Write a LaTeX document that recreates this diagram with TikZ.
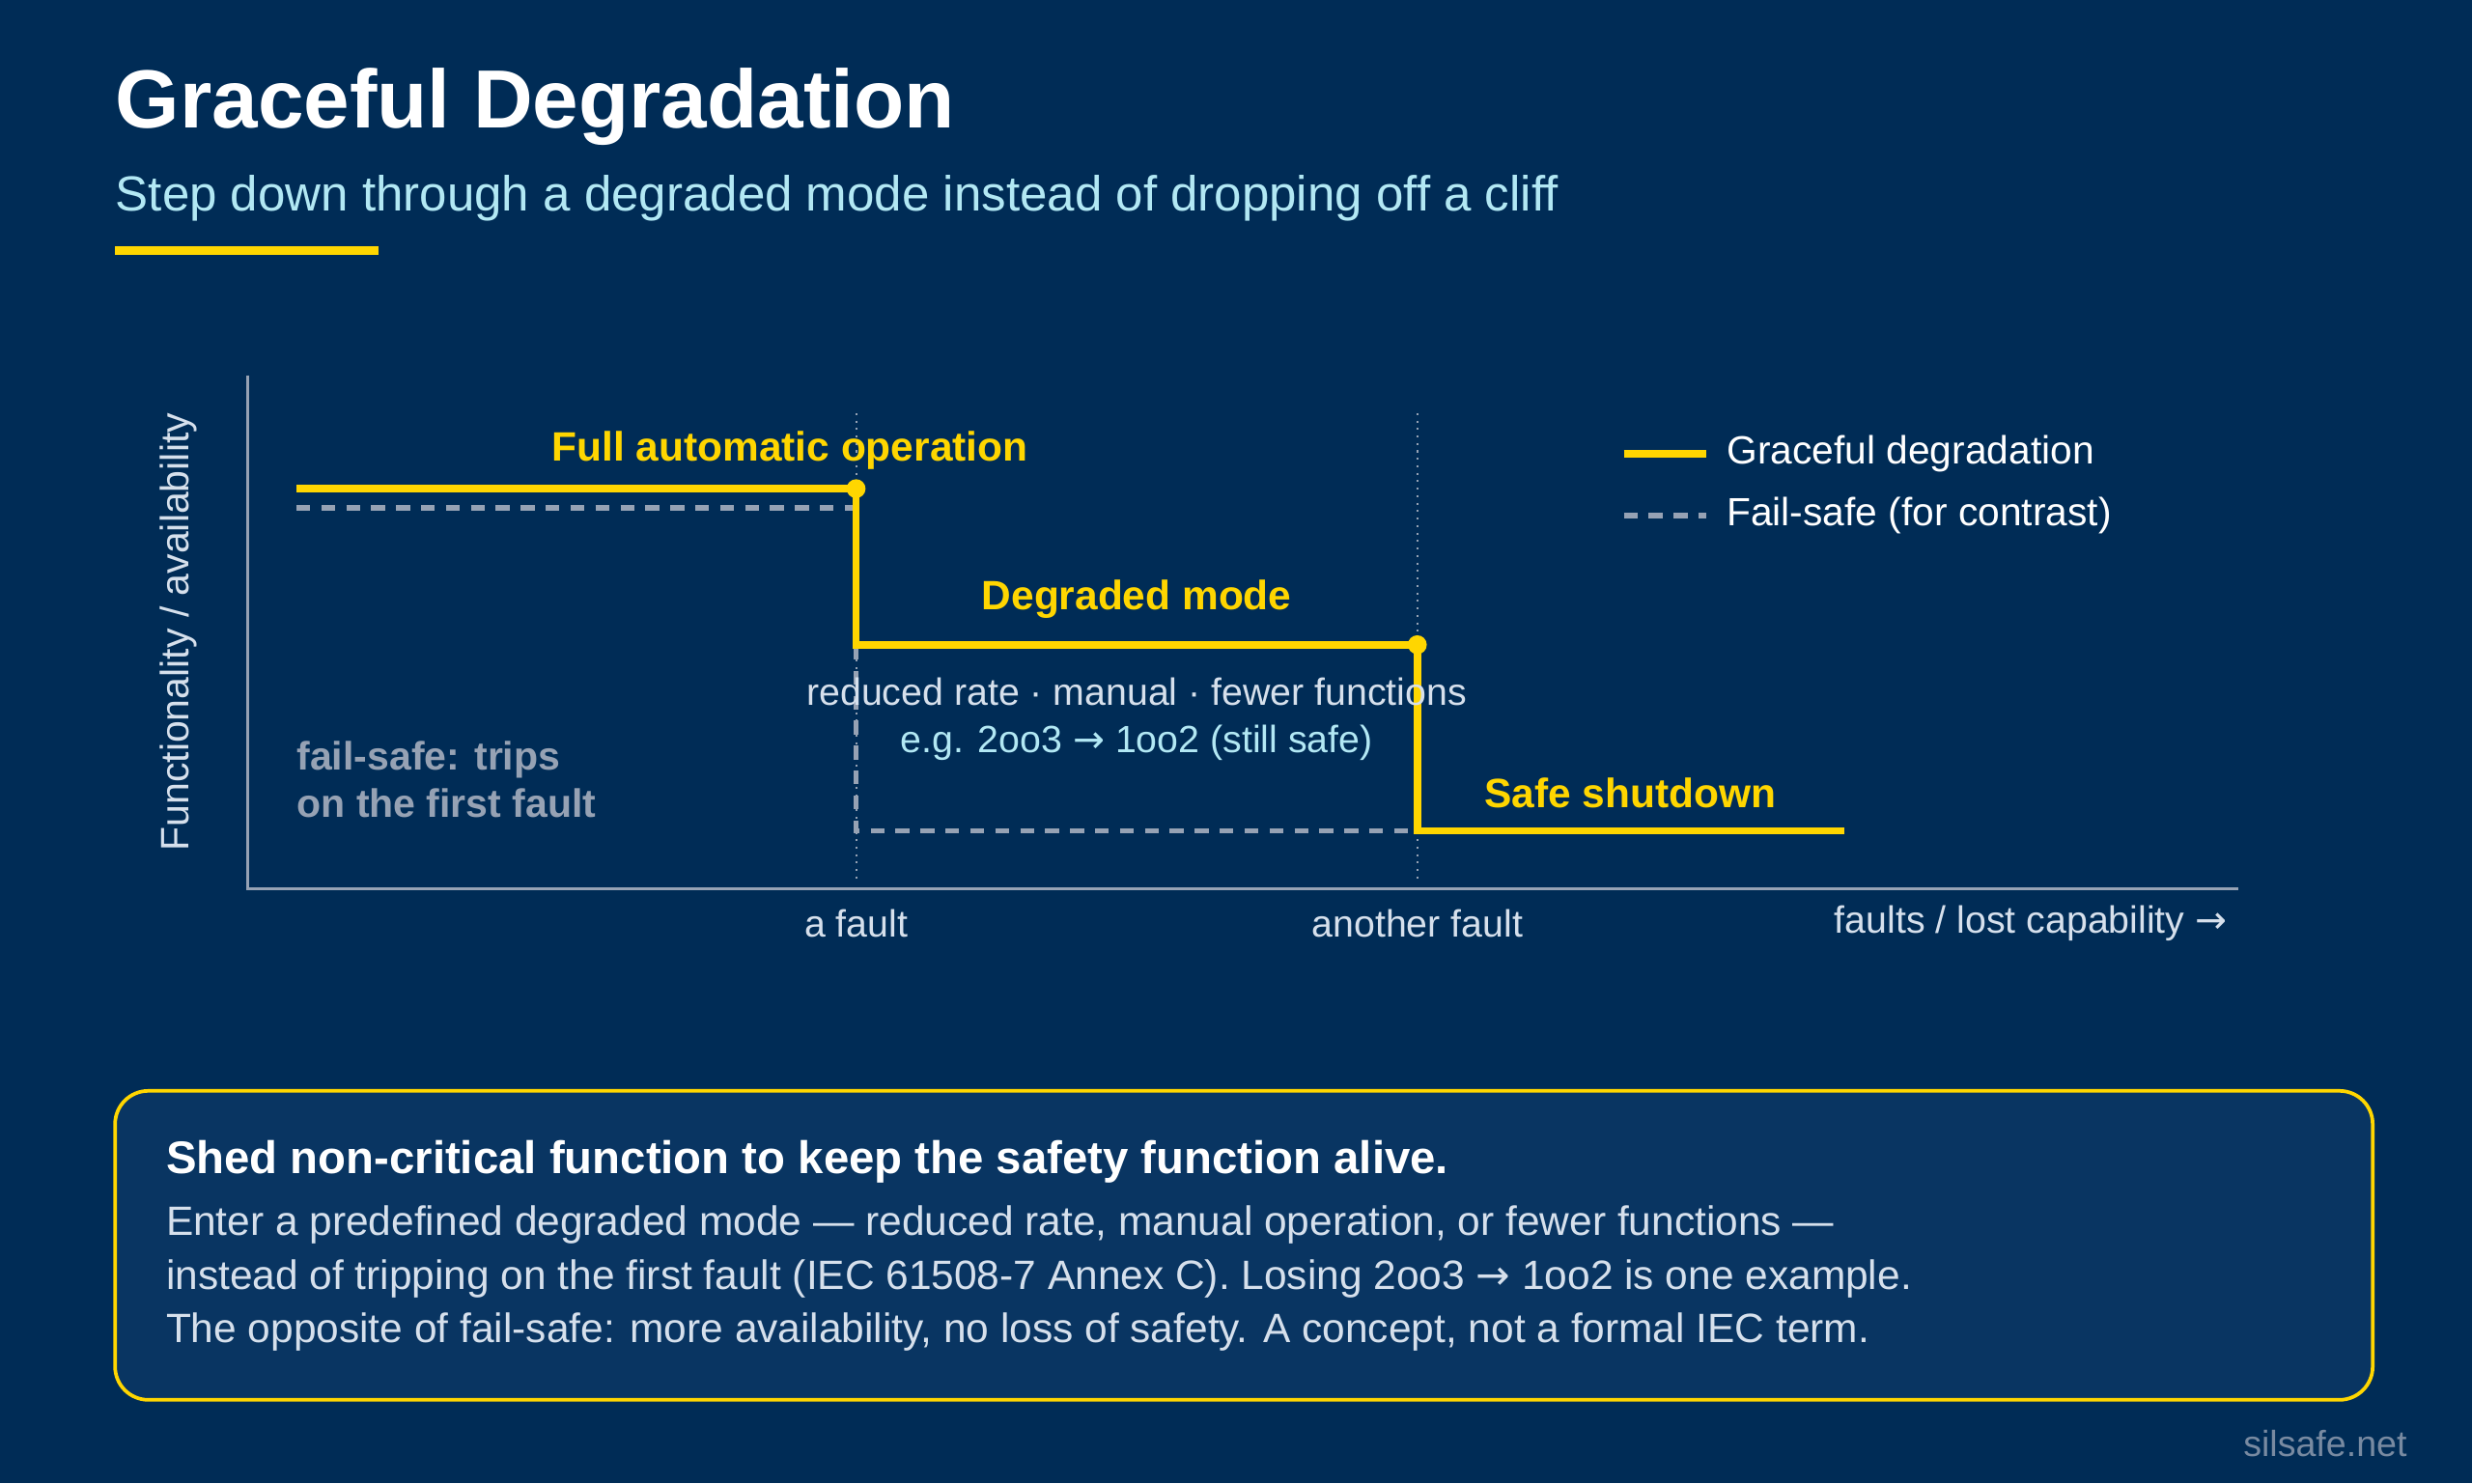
\documentclass[tikz,border=0pt]{standalone}
\usepackage{fontspec}
\setmainfont{Liberation Sans}
\newfontfamily\arrowfont{DejaVu Sans}
\newcommand{\rarr}{{\arrowfont →}}
\usetikzlibrary{positioning}
\definecolor{bgblue}{RGB}{0,44,86}
\definecolor{boxblue}{RGB}{9,53,98}
\definecolor{gold}{RGB}{255,214,0}
\definecolor{cyanish}{RGB}{178,232,244}
\definecolor{greyline}{RGB}{150,162,180}
\definecolor{softtext}{RGB}{214,224,236}
\tikzset{
    % text styles
    lbl/.style={font=\fontsize{13.7}{16}\selectfont, text=softtext, inner sep=0pt},
    stage/.style={font=\fontsize{14.8}{17}\selectfont\bfseries, text=gold, inner sep=0pt},
    boxtxt/.style={anchor=west, inner sep=0pt, text=softtext, font=\fontsize{14.8}{17}\selectfont},
    % curve styles
    grace/.style={draw=gold, line width=2.6pt},
    failsafe/.style={draw=greyline, line width=2pt, dash pattern=on 5pt off 4pt},
    marker/.style={dotted, draw=greyline, line width=0.7pt}
}
\begin{document}
\begin{tikzpicture}[x=0.02cm, y=-0.02cm]
 \fill[bgblue] (0,0) rectangle (1568,941);
 \useasboundingbox (0,0) rectangle (1568,941);
 % heading
 \node[anchor=west, inner sep=0pt, text=white, font=\fontsize{29.8}{34}\selectfont\bfseries] (title) at (73,68) {Graceful Degradation};
 \node[anchor=west, inner sep=0pt, text=cyanish, font=\fontsize{17.8}{21}\selectfont] (sub) at (73,126) {Step down through a degraded mode instead of dropping off a cliff};
 \draw[gold, line width=3pt] (73,159) -- (240,159);
 % axes
 \coordinate (o) at (157,564);
 \coordinate (ytop) at (157,238);
 \coordinate (xend) at (1420,564);
 \draw[greyline, line width=1pt] (ytop) -- (o) -- (xend);
 \node[lbl, rotate=90, font=\fontsize{14.3}{16}\selectfont] (ylab) at (113,401) {Functionality / availability};
 % fault markers
 \draw[marker] (543,262) -- (543,560);
 \draw[marker] (899,262) -- (899,560);
 \node[lbl] (f1) at (543,586) {a fault};
 \node[lbl] (f2) at (899,586) {another fault};
 \node[lbl, anchor=east] (xlab) at (1413,586) {faults / lost capability \rarr};
 % curves
 \coordinate (a0) at (188,310); \coordinate (a1) at (543,310);
 \coordinate (a2) at (543,409); \coordinate (a3) at (899,409);
 \coordinate (a4) at (899,527); \coordinate (a5) at (1170,527);
 \coordinate (b0) at (188,322); \coordinate (b1) at (543,322);
 \coordinate (b2) at (543,527); \coordinate (b3) at (899,527);
 \draw[failsafe] (b0) -- (b1) -- (b2) -- (b3);
 \draw[grace] (a0) -- (a1) -- (a2) -- (a3) -- (a4) -- (a5);
 \fill[gold] (a1) circle (6) (a3) circle (6);
 % stage labels
 \node[stage] (full) at (501,286) {Full automatic operation};
 \node[stage] (degr) at (721,380) {Degraded mode};
 \node[stage] (shut) at (1034,503) {Safe shutdown};
 \node[lbl] (note1) at (721,439) {reduced rate · manual · fewer functions};
 \node[lbl, text=cyanish] (note2) at (721,471) {e.g. 2oo3 \rarr\ 1oo2 (still safe)};
 \node[lbl, anchor=north west, text=greyline, font=\fontsize{14.3}{17}\selectfont\bfseries, align=left] (fsnote) at (188,470) {fail-safe: trips\\on the first fault};
 % legend
 \draw[grace] (1030,288) -- (1082,288);
 \node[lbl, anchor=west, text=white, font=\fontsize{14.2}{16}\selectfont] (leg1) at (1095,288) {Graceful degradation};
 \draw[failsafe] (1030,327) -- (1082,327);
 \node[lbl, anchor=west, text=white, font=\fontsize{14.2}{16}\selectfont] (leg2) at (1095,327) {Fail-safe (for contrast)};
 % summary box
 \draw[gold, fill=boxblue, line width=1.3pt, rounded corners=12] (73,692) rectangle (1505,888);
 \node[anchor=west, inner sep=0pt, text=white, font=\fontsize{16.5}{19}\selectfont\bfseries] (boxhead) at (105,737) {Shed non-critical function to keep the safety function alive.};
 \node[boxtxt] (bl1) at (105,777) {Enter a predefined degraded mode — reduced rate, manual operation, or fewer functions —};
 \node[boxtxt] (bl2) at (105,811) {instead of tripping on the first fault (IEC 61508-7 Annex C). Losing 2oo3 \rarr\ 1oo2 is one example.};
 \node[boxtxt] (bl3) at (105,845) {The opposite of fail-safe: more availability, no loss of safety. A concept, not a formal IEC term.};
 \node[anchor=east, inner sep=0pt, text=greyline!80!bgblue, font=\fontsize{13.1}{15}\selectfont] (site) at (1527,916) {silsafe.net};
\end{tikzpicture}
\end{document}
